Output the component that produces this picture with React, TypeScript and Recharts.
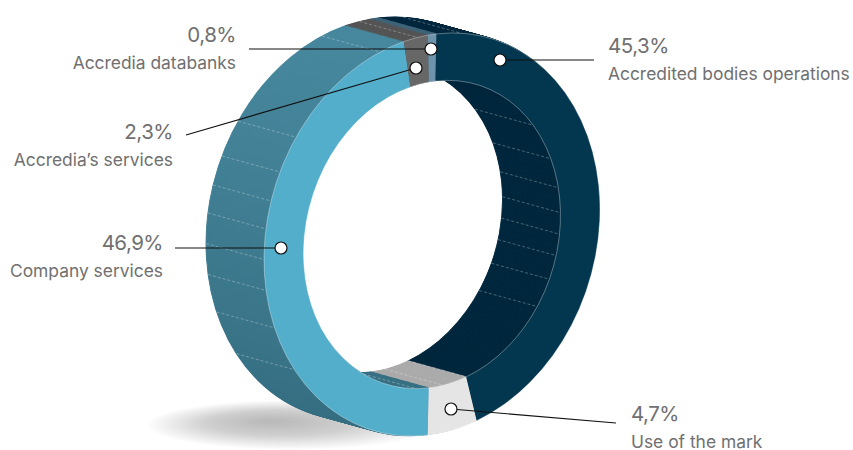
import { Cell, Pie, PieChart } from "recharts";

const categories = ["Accredited bodies operations", "Use of the mark", "Company services", "Accredia’s services", "Accredia databanks"];
const shares = [45.3, 4.7, 46.9, 2.3, 0.8];
const shareLabels = ["45,3%", "4,7%", "46,9%", "2,3%", "0,8%"];

const faceColors = ["#03374f", "#e5e5e5", "#53aecb", "#676767", "#6f93ab"];
const wallColors = ["#00283e", "#ababab", "url(#wallBlue)", "#555555", "#3f6479"];

// clockwise degrees from the top of the ring, where the dashed wall lines sit
const outerStripeAngles = [235, 249.5, 261, 270, 278.7, 286.7, 295.2, 306, 342, 355, 370];
const innerStripeAngles = [412, 427.7, 439.5, 449, 457, 465, 474, 485, 524.6, 535, 547];

const START = 88.5;
const FRONT = { x: 432, y: 234.5 };
const DEPTH = { x: -58, y: -16 };
const LAYERS = 58;
const OUTER = 168;
const INNER = 128.5;
const TILT = -25 / 168;
const STRETCH = 200 / 168;

const layerSteps = Array.from({ length: LAYERS }, (_, i) => i / LAYERS);
const chartData = categories.map((name, i) => ({ name, value: shares[i] }));

function gapsBetween(angles: number[]) {
  return angles.map((a, i) => ({ value: (i < angles.length - 1 ? angles[i + 1] : angles[0] + 360) - a }));
}

function polar(angle: number, r: number) {
  const rad = (angle * Math.PI) / 180;
  return [r * Math.cos(rad), -r * Math.sin(rad)];
}

function ringTransform(cx: number, cy: number) {
  return `translate(${cx} ${cy}) matrix(1 ${TILT} 0 ${STRETCH} 0 0)`;
}

function sectorPath(p: any) {
  const { startAngle, endAngle, innerRadius, outerRadius } = p;
  const large = startAngle - endAngle > 180 ? 1 : 0;
  const [ax, ay] = polar(startAngle, outerRadius);
  const [bx, by] = polar(endAngle, outerRadius);
  const [cx, cy] = polar(endAngle, innerRadius);
  const [dx, dy] = polar(startAngle, innerRadius);
  return `M${ax} ${ay}A${outerRadius} ${outerRadius} 0 ${large} 1 ${bx} ${by}L${cx} ${cy}A${innerRadius} ${innerRadius} 0 ${large} 0 ${dx} ${dy}Z`;
}

function WallSector(p: any) {
  return <path d={sectorPath(p)} transform={ringTransform(p.cx, p.cy)} fill={p.fill} stroke={p.fill} strokeWidth={0.9} />;
}

function FaceSector(p: any) {
  return <path d={sectorPath(p)} transform={ringTransform(p.cx, p.cy)} fill={p.fill} stroke="none" />;
}

function RimArc(p: any) {
  const r = p.outerRadius;
  const [ax, ay] = polar(p.startAngle, r);
  const [bx, by] = polar(p.endAngle, r);
  const large = p.startAngle - p.endAngle > 180 ? 1 : 0;
  return (
    <path
      d={`M${ax} ${ay}A${r} ${r} 0 ${large} 1 ${bx} ${by}`}
      transform={ringTransform(p.cx, p.cy)}
      fill="none"
      stroke="#ffffff"
      strokeOpacity={0.5}
      strokeWidth={0.6}
    />
  );
}

function Stripe(p: any) {
  const [x, y] = polar(p.startAngle, p.outerRadius);
  const fx = p.cx + x;
  const fy = p.cy + TILT * x + STRETCH * y;
  return (
    <line
      x1={fx + DEPTH.x}
      y1={fy + DEPTH.y}
      x2={fx}
      y2={fy}
      stroke="#ffffff"
      strokeOpacity={0.36}
      strokeWidth={0.8}
      strokeDasharray="3 2"
    />
  );
}

function ShareLabel({ index, x, y, anchor }: { index: number; x: number; y: number; anchor: "start" | "end" }) {
  return (
    <g textAnchor={anchor} fill="#707070" fontFamily="Inter, sans-serif">
      <text x={x} y={y} fontSize={20.5} letterSpacing={-0.5}>{shareLabels[index]}</text>
      <text x={x} y={y + 26.5} fontSize={17.4}>{categories[index]}</text>
    </g>
  );
}

function Leader({ x1, y1, x2, y2 }: { x1: number; y1: number; x2: number; y2: number }) {
  return (
    <g>
      <line x1={x1} y1={y1} x2={x2} y2={y2} stroke="#111111" strokeWidth={1.1} />
      <circle cx={x2} cy={y2} r={6} fill="#ffffff" stroke="#111111" strokeWidth={1.2} />
    </g>
  );
}

export default function App() {
  return (
    <div style={{ position: "absolute", left: 0, top: 0, width: 853, height: 450 }}>
      <PieChart width={853} height={450} margin={{ top: 0, right: 0, bottom: 0, left: 0 }}>
        <defs>
          <linearGradient id="wallBlue" gradientUnits="userSpaceOnUse" x1={0} y1={-168} x2={0} y2={168}>
            <stop offset="0%" stopColor="#47889e" />
            <stop offset="100%" stopColor="#346c7f" />
          </linearGradient>
          <radialGradient id="groundShadow" cx="0.5" cy="0.5" r="0.5" fx="0.42" fy="0.42">
            <stop offset="0%" stopColor="#b8b8b8" />
            <stop offset="50%" stopColor="#cfcfcf" />
            <stop offset="100%" stopColor="#ffffff" />
          </radialGradient>
        </defs>
        <ellipse cx={292} cy={425} rx={146} ry={25} fill="url(#groundShadow)" />

        {layerSteps.map((t) => (
          <Pie
            key={t}
            data={chartData}
            dataKey="value"
            cx={FRONT.x + DEPTH.x * (1 - t)}
            cy={FRONT.y + DEPTH.y * (1 - t)}
            innerRadius={INNER}
            outerRadius={OUTER}
            startAngle={START}
            endAngle={START - 360}
            stroke="none"
            shape={WallSector}
            isAnimationActive={false}
          >
            {chartData.map((d, i) => (
              <Cell key={d.name} fill={wallColors[i]} />
            ))}
          </Pie>
        ))}

        <Pie
          data={gapsBetween(outerStripeAngles)}
          dataKey="value"
          cx={FRONT.x}
          cy={FRONT.y}
          innerRadius={OUTER}
          outerRadius={OUTER}
          startAngle={90 - outerStripeAngles[0]}
          endAngle={90 - outerStripeAngles[0] - 360}
          shape={Stripe}
          isAnimationActive={false}
        />
        <Pie
          data={gapsBetween(innerStripeAngles)}
          dataKey="value"
          cx={FRONT.x}
          cy={FRONT.y}
          innerRadius={INNER}
          outerRadius={INNER}
          startAngle={90 - innerStripeAngles[0]}
          endAngle={90 - innerStripeAngles[0] - 360}
          shape={Stripe}
          isAnimationActive={false}
        />

        <Pie
          data={chartData}
          dataKey="value"
          cx={FRONT.x}
          cy={FRONT.y}
          innerRadius={INNER}
          outerRadius={OUTER}
          startAngle={START}
          endAngle={START - 360}
          stroke="none"
          shape={FaceSector}
          isAnimationActive={false}
        >
          {chartData.map((d, i) => (
            <Cell key={d.name} fill={faceColors[i]} />
          ))}
        </Pie>
        <Pie
          data={chartData}
          dataKey="value"
          cx={FRONT.x}
          cy={FRONT.y}
          innerRadius={INNER}
          outerRadius={INNER}
          startAngle={START}
          endAngle={START - 360}
          shape={RimArc}
          isAnimationActive={false}
        />
        <Pie
          data={chartData}
          dataKey="value"
          cx={FRONT.x}
          cy={FRONT.y}
          innerRadius={OUTER}
          outerRadius={OUTER}
          startAngle={START}
          endAngle={START - 360}
          shape={RimArc}
          isAnimationActive={false}
        />
      </PieChart>

      {/* leaders and labels sit above the pies */}
      <svg width={853} height={450} style={{ position: "absolute", left: 0, top: 0 }}>
        <Leader x1={249} y1={49} x2={431} y2={49} />
        <Leader x1={186} y1={135} x2={416} y2={68} />
        <Leader x1={594} y1={60} x2={500} y2={60} />
        <Leader x1={175} y1={248} x2={281} y2={248} />
        <Leader x1={616} y1={423} x2={451} y2={409} />

        <ShareLabel index={4} x={236} y={42} anchor="end" />
        <ShareLabel index={3} x={173} y={139} anchor="end" />
        <ShareLabel index={2} x={163} y={250} anchor="end" />
        <ShareLabel index={0} x={608} y={53} anchor="start" />
        <ShareLabel index={1} x={631} y={421} anchor="start" />
      </svg>
    </div>
  );
}
